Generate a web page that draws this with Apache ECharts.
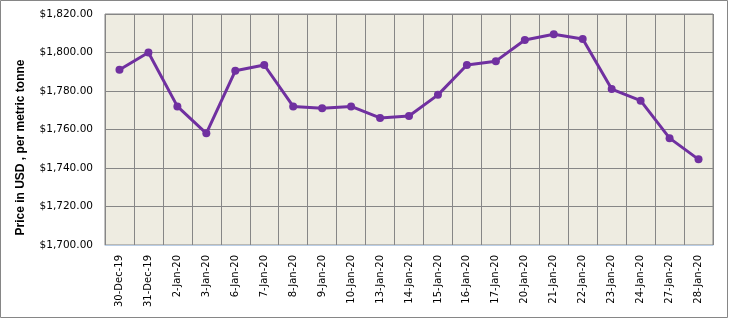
<!DOCTYPE html>
<html>
<head>
<meta charset="utf-8">
<script src="https://cdn.jsdelivr.net/npm/echarts@6/dist/echarts.min.js"></script>
<style>
  html, body { margin: 0; padding: 0; background: #fff; }
  #chart { width: 729px; height: 319px; }
</style>
</head>
<body>
<div id="chart"></div>
<script>
// LME-style daily price, USD per metric tonne
const dates = [
  "30-Dec-19", "31-Dec-19", "2-Jan-20", "3-Jan-20", "6-Jan-20", "7-Jan-20",
  "8-Jan-20", "9-Jan-20", "10-Jan-20", "13-Jan-20", "14-Jan-20", "15-Jan-20",
  "16-Jan-20", "17-Jan-20", "20-Jan-20", "21-Jan-20", "22-Jan-20", "23-Jan-20",
  "24-Jan-20", "27-Jan-20", "28-Jan-20"
];
const prices = [
  1791, 1800, 1772, 1758, 1790.5, 1793.5,
  1772, 1771, 1772, 1766, 1767, 1778,
  1793.5, 1795.5, 1806.5, 1809.5, 1807, 1781,
  1775, 1755.5, 1744.5
];
const yMin = 1700, yMax = 1820, yStep = 20;

const chart = echarts.init(document.getElementById("chart"));
chart.setOption({
  animation: false,
  grid: {
    left: 105, right: 16, top: 14, bottom: 74,
    show: true,
    backgroundColor: "#EEECE1",
    borderColor: "#868686",
    borderWidth: 1
  },
  graphic: [{
    type: "rect",
    shape: { x: 0.5, y: 0.5, width: 727, height: 317 },
    style: { fill: "none", stroke: "#868686", lineWidth: 1 }
  }],
  xAxis: {
    type: "category",
    data: dates,
    boundaryGap: true,
    axisLine: { lineStyle: { color: "#B9CDE5", width: 1 } },
    axisTick: { show: false },
    axisLabel: {
      interval: 0,
      rotate: 90,
      color: "#000",
      fontFamily: "DejaVu Sans",
      fontSize: 10,
      margin: 10
    },
    splitLine: { show: true, interval: 0, lineStyle: { color: "#868686", width: 1 } }
  },
  yAxis: {
    type: "value",
    min: yMin, max: yMax, interval: yStep,
    name: "Price in USD , per metric tonne",
    nameLocation: "middle",
    nameGap: 78,
    nameTextStyle: {
      fontFamily: "Liberation Sans", fontWeight: "bold", fontSize: 12, color: "#000",
      padding: [0, 36, 0, 0]
    },
    axisLine: { show: false },
    axisTick: { show: false },
    axisLabel: {
      color: "#000",
      fontFamily: "DejaVu Sans",
      fontSize: 10.5,
      margin: 12,
      formatter: function (v) {
        return "$" + v.toLocaleString("en-US", { minimumFractionDigits: 2, maximumFractionDigits: 2 });
      }
    },
    splitLine: { lineStyle: { color: "#868686", width: 1 } }
  },
  series: [{
    type: "line",
    data: prices,
    symbol: "circle",
    symbolSize: 8,
    lineStyle: { color: "#7030A0", width: 3 },
    itemStyle: { color: "#7030A0" }
  }]
});
</script>
</body>
</html>
